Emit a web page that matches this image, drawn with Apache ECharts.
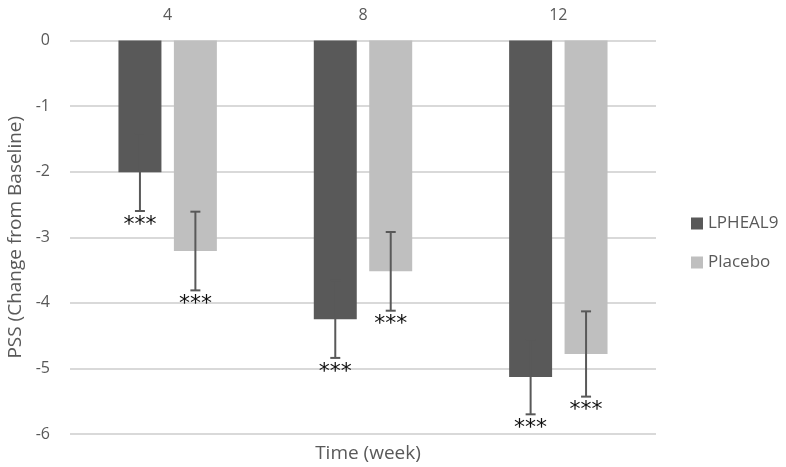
<!DOCTYPE html>
<html><head><meta charset="utf-8">
<script src="https://cdn.jsdelivr.net/npm/echarts@6/dist/echarts.min.js"></script>
<style>html,body{margin:0;padding:0;background:#fff}#c{width:786px;height:467px}</style>
</head><body><div id="c"></div>
<script>
const categories = ['4', '8', '12'];
const lpheal9 = [-2.01, -4.25, -5.13];
const lpheal9Err = [0.59, 0.59, 0.57];
const placebo = [-3.21, -3.52, -4.78];
const placeboErr = [0.6, 0.6, 0.65];
const sigLabels = ['***', '***', '***'];

const FONT = '"Open Sans", sans-serif';
const BW = 0.22, GAP = 0.29;

function errSeries(name, vals, errs, sign) {
  return {
    type: 'custom', name: name + ' err', z: 5, silent: true,
    data: vals.map((v, i) => [i, v, errs[i]]),
    renderItem: function (params, api) {
      const i = api.value(0), v = api.value(1), e = api.value(2);
      const cw = api.size([1, 0])[0];
      const bw = cw * BW;
      const off = sign * (bw * (1 + GAP)) / 2;
      const top = api.coord([i, v + e]);
      const bot = api.coord([i, v - e]);
      const x = top[0] + off;
      return {
        type: 'group', children: [
          { type: 'line', shape: { x1: x, y1: top[1], x2: x, y2: bot[1] }, style: { stroke: '#595959', lineWidth: 2 } },
          { type: 'line', shape: { x1: x - 5, y1: top[1], x2: x + 5, y2: top[1] }, style: { stroke: '#595959', lineWidth: 2 } },
          { type: 'line', shape: { x1: x - 5, y1: bot[1], x2: x + 5, y2: bot[1] }, style: { stroke: '#595959', lineWidth: 2 } },
          { type: 'text', style: { x: x, y: bot[1] + 3, text: sigLabels[i], fill: '#111', font: '22px "DejaVu Sans", sans-serif', textAlign: 'center', textVerticalAlign: 'top' } }
        ]
      };
    }
  };
}

const chart = echarts.init(document.getElementById('c'), null, { renderer: 'canvas' });
chart.setOption({
  animation: false,
  grid: { left: 70, right: 130, top: 40.5, bottom: 33, containLabel: false, outerBoundsMode: 'none' },
  title: { text: 'Time (week)', left: 363, textAlign: 'center', top: 439,
    textStyle: { fontFamily: FONT, fontSize: 19, fontWeight: 'normal', color: '#595959' } },
  legend: {
    orient: 'vertical', left: 686, top: 210, itemWidth: 12, itemHeight: 12, itemGap: 22,
    data: ['LPHEAL9', 'Placebo'], icon: 'rect',
    textStyle: { fontFamily: FONT, fontSize: 17, color: '#595959' }
  },
  xAxis: {
    type: 'category', data: categories, position: 'top',
    axisLine: { show: false }, axisTick: { show: false },
    axisLabel: { margin: 17, fontFamily: FONT, fontSize: 16, color: '#595959' }
  },
  yAxis: {
    type: 'value', min: -6, max: 0, interval: 1,
    name: 'PSS (Change from Baseline)', nameLocation: 'middle', nameGap: 43,
    nameTextStyle: { fontFamily: FONT, fontSize: 19, color: '#595959' },
    axisLine: { show: false }, axisTick: { show: false },
    axisLabel: { margin: 20, fontFamily: FONT, fontSize: 16, color: '#595959' },
    splitLine: { lineStyle: { color: '#d9d9d9', width: 2 } }
  },
  series: [
    { name: 'LPHEAL9', type: 'bar', data: lpheal9, barWidth: (BW * 100) + '%', barGap: (GAP * 100) + '%', itemStyle: { color: '#595959' } },
    { name: 'Placebo', type: 'bar', data: placebo, barWidth: (BW * 100) + '%', itemStyle: { color: '#bfbfbf' } },
    errSeries('LPHEAL9', lpheal9, lpheal9Err, -1),
    errSeries('Placebo', placebo, placeboErr, 1)
  ]
});
</script></body></html>
